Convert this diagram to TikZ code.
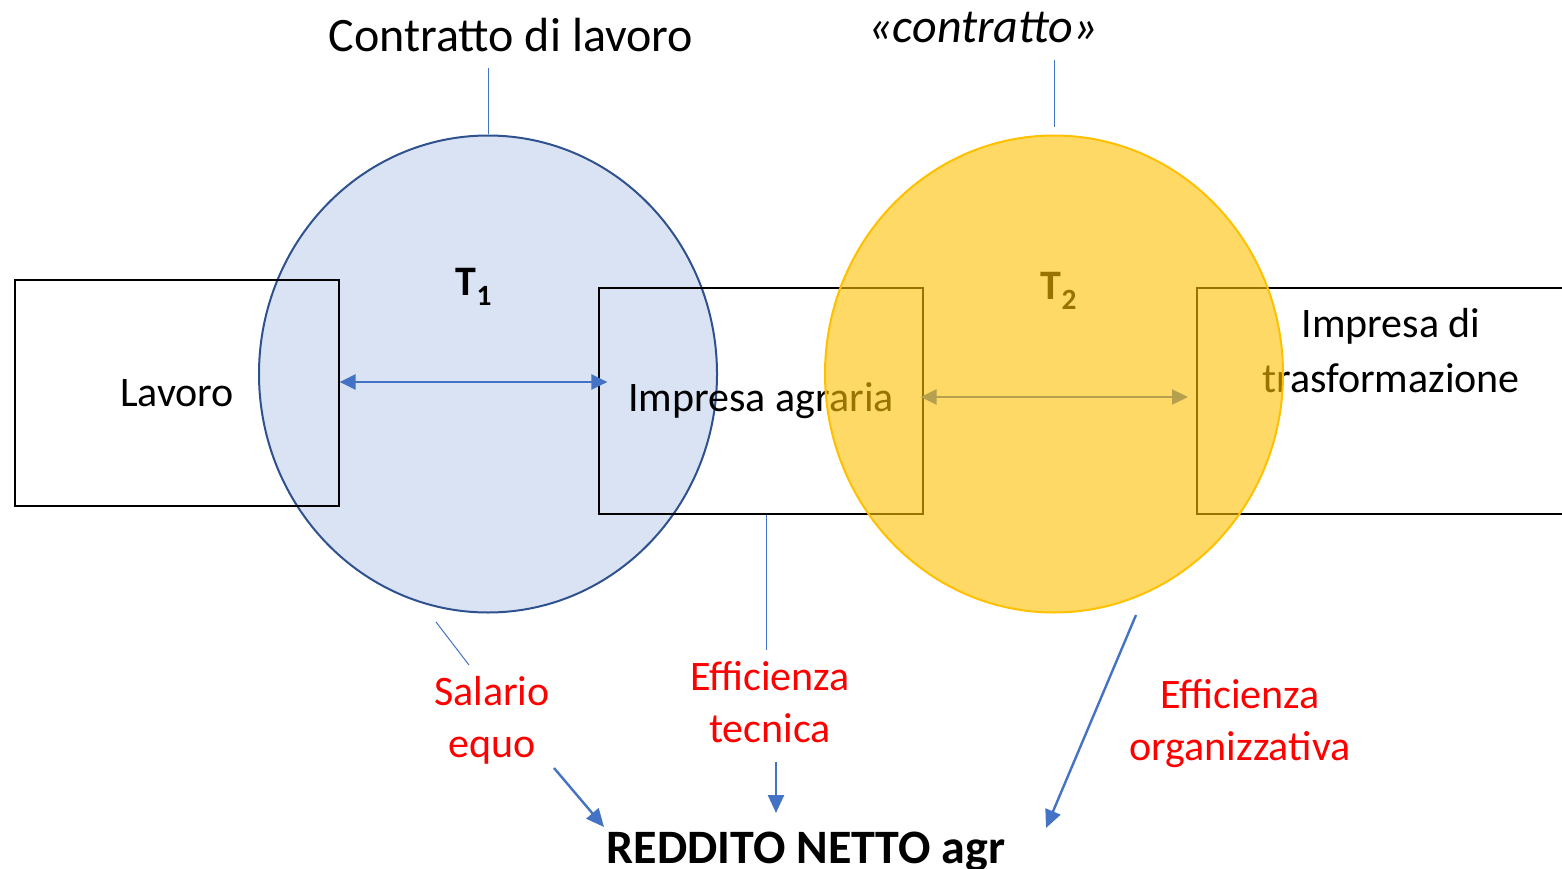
\documentclass[tikz,border=0pt]{standalone}
\usepackage{fontspec}
\setmainfont{Carlito}
\usepackage{tikz}
\usetikzlibrary{arrows.meta,shapes.geometric,positioning}
\definecolor{cerchioblu}{HTML}{DAE3F3}
\definecolor{bordoblu}{HTML}{2F528F}
\definecolor{oro}{HTML}{FFC000}
\definecolor{linea}{HTML}{4472C4}
\definecolor{rosso}{HTML}{FF0000}
\tikzset{
    box/.style={
           rectangle,
           draw=black,
           line width=1.2pt,
           minimum width=324pt,
           minimum height=226pt,
           inner sep=0pt,
           text centered,
           },
    cerchio/.style={
           ellipse,
           line width=2pt,
           minimum width=458pt,
           minimum height=477pt,
           inner sep=0pt,
           },
}

\begin{document}
\begin{tikzpicture}[
  x=1pt,y=-1pt,
  testo/.style={font=\fontsize{42}{52}\selectfont,align=center,inner sep=0pt},
  titolo/.style={font=\fontsize{48}{56}\selectfont,inner sep=0pt},
  etich/.style={testo,text=rosso},
  conn/.style={draw=linea,line width=1pt},
  freccia/.style={draw=linea,line width=2.4pt,-{Triangle[length=18pt,width=16pt]}},
  doppia/.style={draw=linea,line width=2.4pt,{Triangle[length=16pt,width=15pt]}-{Triangle[length=16pt,width=15pt]}}]
\useasboundingbox (0,0) rectangle (1562,869);
\node[cerchio,draw=bordoblu,fill=cerchioblu](t1) at (488,374){};
\node[box,testo](lavoro) at (177,393){Lavoro};
\node[box,testo](agraria) at (761,401){Impresa agraria};
\draw[line width=1.2pt] (1562,288) -| (1197,514) -- (1562,514);
\coordinate (trasf) at (1197,401);
\node[testo,font=\fontsize{42}{55}\selectfont](trasftxt) at (1391,351){Impresa di\\trasformazione};
\node[testo,font=\fontsize{42}{52}\selectfont\bfseries](lt1) at (474,287){T\textsubscript{1}};
\node[testo,font=\fontsize{42}{52}\selectfont\bfseries](lt2) at (1059,291){T\textsubscript{2}};
\path[doppia] ([yshift=11pt]lavoro.east) -- ([xshift=9pt,yshift=19pt]agraria.west);
\path[doppia] ([xshift=-3pt,yshift=4pt]agraria.east) -- ([xshift=-9pt,yshift=4pt]trasf);
\node[cerchio,draw=oro,fill=oro,fill opacity=0.6](t2) at (1054,374){};

\node[titolo](contratto) at (511,35){Contratto di lavoro};
\node[titolo,font=\fontsize{48}{56}\selectfont\itshape](contr) at (983,28){«contratto»};
\node[etich](salario) at (492,720){Salario\\equo};
\node[etich](tecnica) at (770,702){Efficienza\\tecnica};
\node[etich](organ) at (1240,724){Efficienza\\organizzativa};
\node[font=\fontsize{48}{56}\selectfont\bfseries,inner sep=0pt](reddito) at (806,852){REDDITO NETTO agr};

\coordinate (c1) at (488,68);
\coordinate (c2) at (1054,60);
\coordinate (c3) at (436,622);
\coordinate (c4) at (469,665);
\coordinate (c5) at (766,650);
\coordinate (a1) at (554,768);
\coordinate (a2) at (604,827);
\coordinate (a3) at (776,762);
\coordinate (a4) at (776,813);
\coordinate (a5) at (1136,615);
\coordinate (a6) at (1046,828);

\path (c1) edge[conn] (t1.north)
      (c2) edge[conn] ([yshift=7pt]t2.north)
      (c3) edge[conn] (c4)
      ([xshift=5pt]agraria.south) edge[conn] (c5)
      (a1) edge[freccia] (a2)
      (a3) edge[freccia] (a4)
      (a5) edge[freccia] (a6);
\end{tikzpicture}
\end{document}
